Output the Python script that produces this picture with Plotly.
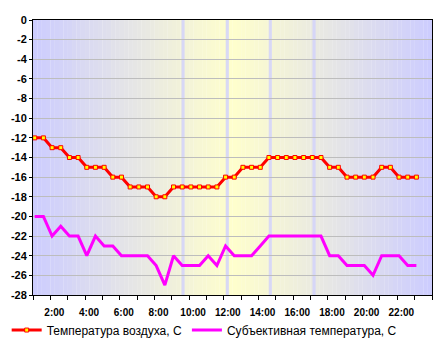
import plotly.graph_objects as go

# Data: time in hours (half-hourly observations), temperatures in °C
start_hour = 1.1
times = [start_hour + 0.5 * i for i in range(45)]
air_temp = [-12, -12, -13, -13, -14, -14, -15, -15, -15, -16,
            -16, -17, -17, -17, -18, -18, -17, -17, -17, -17,
            -17, -17, -16, -16, -15, -15, -15, -14, -14, -14,
            -14, -14, -14, -14, -15, -15, -16, -16, -16, -16,
            -15, -15, -16, -16, -16]
feel_temp = [-20, -20, -22, -21, -22, -22, -24, -22, -23, -23,
             -24, -24, -24, -24, -25, -27, -24, -25, -25, -25,
             -24, -25, -23, -24, -24, -24, -23, -22, -22, -22,
             -22, -22, -22, -22, -24, -24, -25, -25, -25, -26,
             -24, -24, -24, -25, -25]
x_tickvals = [2, 4, 6, 8, 10, 12, 14, 16, 18, 20, 22]
x_ticktext = ["2:00", "4:00", "6:00", "8:00", "10:00", "12:00",
              "14:00", "16:00", "18:00", "20:00", "22:00"]
y_tickvals = [0, -2, -4, -6, -8, -10, -12, -14, -16, -18, -20, -22, -24, -26, -28]
y_ticktext = ["0", "-2", "-4", "-6", "-8", "-10", "-12", "-14", "-16", "-18",
              "-20", "-22", "-24", "-26", "-28"]
band_hours = [9.65, 12.2, 14.68, 17.2]
series_names = ["Температура воздуха, С", "Субъективная температура, С"]

X_MIN, X_MAX = 1, 24
Y_MIN, Y_MAX = -28, 0

fig = go.Figure()
fig.add_trace(go.Scatter(
    x=times, y=air_temp, name=series_names[0], mode="lines+markers",
    line=dict(color="#ff0000", width=3),
    marker=dict(symbol="square", size=4, color="#ffff00",
                line=dict(color="#ff0000", width=1)),
))
fig.add_trace(go.Scatter(
    x=times, y=feel_temp, name=series_names[1], mode="lines",
    line=dict(color="#ff00ff", width=3),
))

# background gradient: lavender at edges -> pale yellow at midday
shapes = []
lav = (204, 204, 255)
yel = (255, 255, 204)
center = 12.5
n = 92
step = (X_MAX - X_MIN) / n
for k in range(n):
    x0 = X_MIN + k * step
    x1 = x0 + step
    xc = (x0 + x1) / 2
    t = max(0.0, 1 - abs(xc - center) / (center - X_MIN))
    c = tuple(round(lav[j] * (1 - t) + yel[j] * t) for j in range(3))
    shapes.append(dict(type="rect", xref="x", yref="paper", x0=x0, x1=x1 + 0.01,
                       y0=0, y1=1, fillcolor="rgb(%d,%d,%d)" % c,
                       line=dict(width=0), layer="below"))
for h in band_hours:
    shapes.append(dict(type="rect", xref="x", yref="paper", x0=h - 0.09, x1=h + 0.09,
                       y0=0, y1=1, fillcolor="rgba(210,210,250,0.85)",
                       line=dict(width=0), layer="below"))

fig.update_layout(
    width=445, height=350,
    margin=dict(l=33, r=13, t=20, b=55, autoexpand=False),
    paper_bgcolor="white", plot_bgcolor="white",
    font=dict(family="Liberation Sans, Arial", color="black"),
    shapes=shapes,
    showlegend=True,
    legend=dict(orientation="h", xref="container", yref="container",
                x=0.015, xanchor="left", y=0.057, yanchor="middle",
                font=dict(size=12), bgcolor="rgba(0,0,0,0)", itemwidth=30,
                tracegroupgap=0),
)
fig.update_xaxes(
    range=[X_MIN, X_MAX], tickvals=x_tickvals, ticktext=x_ticktext,
    ticks="outside", ticklen=4, tickcolor="black",
    tickfont=dict(size=10, family="Liberation Sans, Arial", weight="bold"),
    ticklabelshift=4, ticklabelstandoff=4,
    minor=dict(dtick=1, tick0=1, ticks="outside", ticklen=4, tickcolor="black", showgrid=False),
    showgrid=False, zeroline=False,
    showline=True, linecolor="black", linewidth=1, mirror=True,
)
fig.update_yaxes(
    range=[Y_MIN, Y_MAX], tickvals=y_tickvals, ticktext=y_ticktext,
    ticks="outside", ticklen=3, tickcolor="black",
    tickfont=dict(size=11, family="Liberation Sans, Arial", weight="bold"),
    showgrid=True, gridcolor="#bdbdbd", gridwidth=1, zeroline=False,
    showline=True, linecolor="black", linewidth=1, mirror=True,
)

fig.write_html("out.html")
